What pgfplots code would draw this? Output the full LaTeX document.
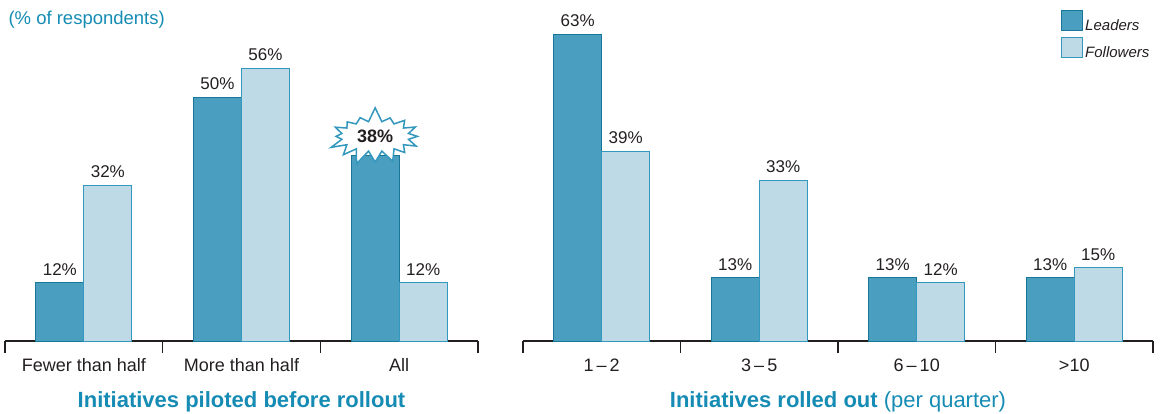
\documentclass[border=0pt]{standalone}
\usepackage{pgfplots}
\pgfplotsset{compat=1.18}
\usetikzlibrary{shapes.symbols}
\usepackage{fontspec}
\setmainfont{Liberation Sans}
\definecolor{leadfill}{RGB}{74,158,191}
\definecolor{leaddraw}{RGB}{24,118,152}
\definecolor{follfill}{RGB}{190,218,230}
\definecolor{folldraw}{RGB}{52,152,190}
\definecolor{titleteal}{RGB}{22,140,180}
\definecolor{txt}{RGB}{35,31,32}
\pgfplotsset{
  mybar/.style={
    scale only axis, height=341pt, ymin=0, ymax=70,
    hide y axis,
    axis x line*=bottom,
    x axis line style={-, line width=1.5pt, color=txt},
    ybar, bar width=48pt,
    major tick length=0pt,
    /pgf/number format/assume math mode=true,
    xticklabel style={font=\fontsize{18}{20}\selectfont, text=txt, anchor=base, yshift=-30pt},
    extra x tick style={major tick length=12pt, tick align=outside, tick style={line width=1.5pt, color=txt}},
    nodes near coords={\pgfmathprintnumber{\pgfplotspointmeta}\%},
    every node near coord/.append style={font=\fontsize{17}{19}\selectfont, text=txt, anchor=base, yshift=7.5pt},
    clip=false,
  },
  leaders/.style={fill=leadfill, draw=leaddraw, line width=1pt, bar shift=-24pt},
  followers/.style={fill=follfill, draw=folldraw, line width=1pt, bar shift=24pt},
  sqlegend/.style={legend image code/.code={\draw[##1] (0pt,-5pt) rectangle (21pt,15pt);}},
  burst/.style={
    nodes near coords={\textbf{\pgfmathprintnumber{\pgfplotspointmeta}\%}},
    every node near coord/.append style={starburst, starburst points=16,
      starburst point height=15pt, random starburst=7, fill=white, draw=folldraw,
      font=\bfseries\fontsize{18}{20}\selectfont,
      line width=1.5pt, minimum width=98pt, minimum height=60pt, anchor=center, yshift=12pt}},
}
\begin{document}
\begin{tikzpicture}
\useasboundingbox (0,-72pt) rectangle (1160pt,341pt);
% left panel
\begin{axis}[mybar, at={(5pt,0pt)}, anchor=south west, width=473pt,
  xmin=-0.5, xmax=2.5, xtick={0,1,2},
  xticklabels={Fewer than half, More than half, All},
  extra x ticks={-0.5,0.5,1.5,2.5}, extra x tick labels={}]
\addplot[leaders] coordinates {(0,12) (1,50)};
\addplot[leaders, burst] coordinates {(2,38)};
\addplot[followers] coordinates {(0,32) (1,56) (2,12)};
\end{axis}
% right panel
\begin{axis}[mybar, at={(523pt,0pt)}, anchor=south west, width=630pt,
  xmin=-0.5, xmax=3.5, xtick={0,1,2,3},
  xticklabels={1\,--\,2, 3\,--\,5, 6\,--\,10, >10},
  extra x ticks={-0.5,0.5,1.5,2.5,3.5}, extra x tick labels={},
  legend style={draw=none, fill=none, at={(0.854,0.97)}, anchor=north west,
    font=\itshape\fontsize{15}{17}\selectfont, text=txt, row sep=3pt, inner sep=0pt,
    /tikz/every even column/.append style={column sep=3pt}},
  legend cell align=left]
\addplot[leaders, sqlegend] coordinates {(0,63) (1,13) (2,13) (3,13)};
\addlegendentry{Leaders}
\addplot[followers, sqlegend] coordinates {(0,39) (1,33) (2,12) (3,15)};
\addlegendentry{Followers}
\end{axis}
% titles
\node[anchor=base west, text=titleteal, font=\fontsize{18.5}{20}\selectfont] at (5pt,316pt) {(\% of respondents)};
\node[anchor=base, text=titleteal, font=\bfseries\fontsize{22}{24}\selectfont] at (241.5pt,-66pt) {Initiatives piloted before rollout};
\node[anchor=base, text=titleteal, font=\fontsize{22}{24}\selectfont] at (838pt,-66pt) {\textbf{Initiatives rolled out} (per quarter)};
\end{tikzpicture}
\end{document}
